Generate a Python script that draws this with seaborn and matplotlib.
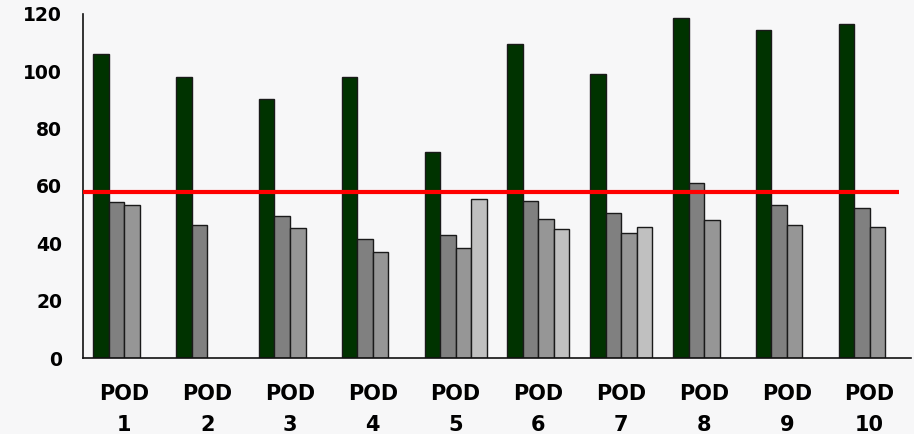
import numpy as np
import pandas as pd
import seaborn as sns
import matplotlib.pyplot as plt

# valores
pods = ["POD\n1", "POD\n2", "POD\n3", "POD\n4", "POD\n5",
        "POD\n6", "POD\n7", "POD\n8", "POD\n9", "POD\n10"]
serie_1 = [106.0, 97.9, 90.3, 98.0, 71.7, 109.5, 99.1, 118.5, 114.4, 116.5]
serie_2 = [54.5, 46.5, 49.5, 41.5, 42.8, 54.6, 50.7, 60.9, 53.3, 52.4]
serie_3 = [53.3, np.nan, 45.3, 37.0, 38.3, 48.4, 43.7, 48.2, 46.5, 45.7]
serie_4 = [np.nan, np.nan, np.nan, np.nan, 55.5, 44.9, 45.8, np.nan, np.nan, np.nan]
objetivo = 58.0

series = ["Serie 1", "Serie 2", "Serie 3", "Serie 4"]
colores = ["#003300", "#808080", "#969696", "#C0C0C0"]

rows = []
for nombre, vals in zip(series, [serie_1, serie_2, serie_3, serie_4]):
    for pod, v in zip(pods, vals):
        rows.append({"pod": pod, "serie": nombre, "valor": v})
df = pd.DataFrame(rows)

sns.set_style("white")
plt.rcParams['font.family'] = ['DejaVu Sans']

fig = plt.figure(figsize=(9.14, 4.34), dpi=100, facecolor="#F7F7F8")
ax = fig.add_axes([0.0908, 0.175, 0.906, 0.793])
ax.set_facecolor("#F7F7F8")

sns.barplot(data=df.dropna(), x="pod", y="valor", hue="serie",
            order=pods, hue_order=series, palette=colores,
            width=0.75, edgecolor="#1a1a1a", linewidth=1.0,
            saturation=1, legend=False, ax=ax)

# linea roja del objetivo
ax.hlines(objetivo, -0.5, 9.36, color="#FF0000", linewidth=3, zorder=5)

ax.set_xlim(-0.5, 9.5)
ax.set_ylim(0, 120)
ax.set_yticks(range(0, 121, 20))
ax.set_xlabel("")
ax.set_ylabel("")

for s in ["top", "right"]:
    ax.spines[s].set_visible(False)
for s in ["left", "bottom"]:
    ax.spines[s].set_color("#111111")
    ax.spines[s].set_linewidth(1.2)

ax.set_xticks(np.arange(-0.5, 10, 1), minor=True)
ax.tick_params(axis="x", which="major", length=0, pad=19)
ax.tick_params(axis="x", which="minor", length=6, width=1.2, color="#444444", direction="out")
ax.tick_params(axis="y", length=6, width=1.2, color="#444444", direction="out", pad=9)

for lbl in ax.get_xticklabels():
    lbl.set_fontsize(15)
    lbl.set_fontweight("bold")
    lbl.set_color("black")
    lbl.set_linespacing(1.65)
for lbl in ax.get_yticklabels():
    lbl.set_fontsize(13.5)
    lbl.set_fontweight("bold")
    lbl.set_color("black")

fig.savefig("out.png", dpi=100, facecolor=fig.get_facecolor())
